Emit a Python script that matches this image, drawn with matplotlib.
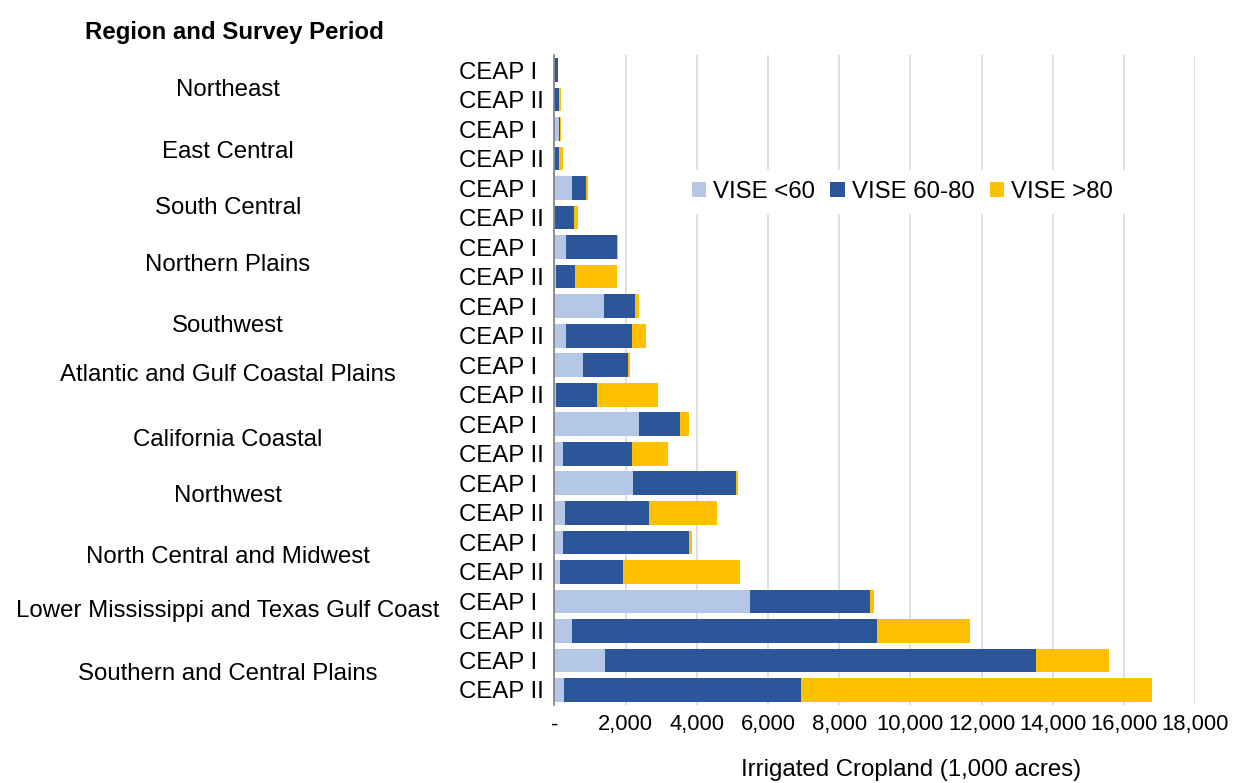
import matplotlib
matplotlib.use("Agg")
import matplotlib.pyplot as plt
from matplotlib.ticker import FuncFormatter

plt.rcParams['font.family'] = ['Liberation Sans', 'DejaVu Sans']

regions = ["Northeast", "East Central", "South Central", "Northern Plains", "Southwest",
           "Atlantic and Gulf Coastal Plains", "California Coastal", "Northwest",
           "North Central and Midwest", "Lower Mississippi and Texas Gulf Coast",
           "Southern and Central Plains"]
periods = ["CEAP I", "CEAP II"]
series_names = ["VISE <60", "VISE 60-80", "VISE >80"]

# values in 1,000 acres, rows ordered top to bottom (CEAP I, CEAP II per region)
vise_lt60 = [20, 0, 120, 10, 500, 20, 330, 30, 1380, 330, 790, 50,
             2370, 230, 2200, 300, 250, 150, 5480, 480, 1420, 280]
vise_60_80 = [70, 120, 40, 120, 390, 520, 1420, 540, 870, 1860, 1280, 1150,
              1150, 1940, 2890, 2350, 3520, 1770, 3370, 8590, 12120, 6640]
vise_gt80 = [0, 60, 20, 100, 40, 120, 30, 1190, 120, 380, 60, 1700,
             250, 1020, 70, 1910, 80, 3300, 120, 2590, 2040, 9870]

# layout only: vertical placement of region labels (in row units)
region_label_rows = [0.68, 2.78, 4.68, 6.61, 8.68, 10.34, 12.54, 14.44, 16.50, 18.33, 20.47]

colors = ["#B4C7E7", "#2B579A", "#FFC000"]
FS = 17.3

fig = plt.figure(figsize=(12.33, 7.83), dpi=100)
ax = fig.add_axes([0.4497, 0.100, 0.9694 - 0.4497, 0.9294 - 0.100])

n = len(vise_lt60)
ypos = list(range(n))
labels = [periods[i % 2] for i in range(n)]
left = [0] * n
for vals, c, name in zip([vise_lt60, vise_60_80, vise_gt80], colors, series_names):
    ax.barh(ypos, vals, left=left, height=0.8, color=c, label=name, zorder=3)
    left = [a + b for a, b in zip(left, vals)]

ax.set_ylim(n - 0.5, -0.5)
ax.set_xlim(0, 18000)
ax.set_xticks(range(0, 18001, 2000))
ax.xaxis.set_major_formatter(FuncFormatter(lambda v, p: "-" if v == 0 else f"{int(v):,}"))
ax.set_yticks(ypos)
ax.set_yticklabels(labels, fontsize=FS, ha='left')
ax.tick_params(axis='y', length=0, pad=68.5)
ax.tick_params(axis='x', length=0, labelsize=15.8, pad=7)
ax.grid(axis='x', color='#D9D9D9', linewidth=1.2, zorder=0)
for s in ['top', 'right', 'bottom']:
    ax.spines[s].set_visible(False)
ax.spines['left'].set_color('#7F7F7F')
ax.spines['left'].set_linewidth(1.2)
ax.spines['left'].set_zorder(4)

fig.text(911 / 1233, 1 - 770 / 783, "Irrigated Cropland (1,000 acres)",
         ha='center', va='center', fontsize=FS)

for r, yr in zip(regions, region_label_rows):
    ax.text(-0.5095, yr, r, transform=ax.get_yaxis_transform(), ha='center', va='center', fontsize=FS)

fig.text(0.19, 0.958, "Region and Survey Period", ha='center', va='center', fontsize=FS, fontweight='bold')

leg = ax.legend(loc='center', bbox_to_anchor=(0.543, 0.79), ncol=3, frameon=True, fontsize=FS,
                handlelength=0.6, handleheight=0.6, handletextpad=0.3, columnspacing=0.62,
                borderpad=0.45, fancybox=False)
leg.get_frame().set_facecolor('white')
leg.get_frame().set_edgecolor('white')
leg.get_frame().set_alpha(1.0)
leg.set_zorder(5)

fig.savefig("out.png", dpi=100)
